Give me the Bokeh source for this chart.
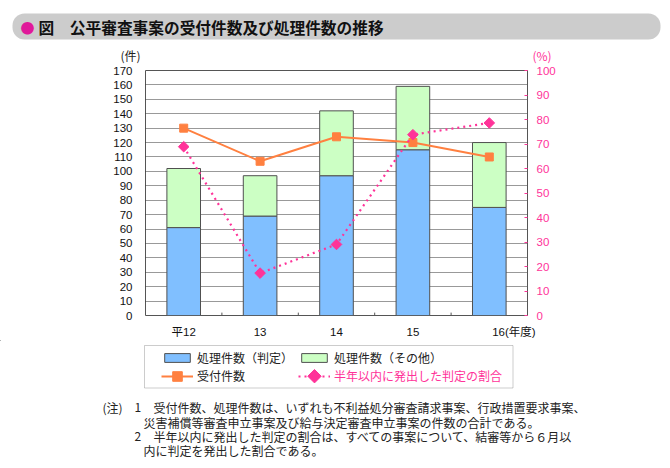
from math import pi
from bokeh.plotting import figure
from bokeh.layouts import column
from bokeh.models import (ColumnDataSource, Range1d, LinearAxis, FactorRange, CustomJSTickFormatter,
                          SingleIntervalTicker, Label, BoxAnnotation, Legend, LegendItem)
from bokeh.embed import file_html
from bokeh.resources import INLINE

# ---------------- data ----------------
years = ["平12", "13", "14", "15", "16"]
year_unit = "(年度)"
hantei = [61, 69, 97, 115, 75]          # 処理件数（判定）
sonota = [41, 28, 45, 44, 45]           # 処理件数（その他）
uketsuke = [130, 107, 124, 120, 110]    # 受付件数
ratio = [68.9, 17.3, 29.0, 73.8, 78.6]  # 半年以内に発出した判定の割合 (%)

title_text = "図　公平審査事案の受付件数及び処理件数の推移"
legend_labels = ["処理件数（判定）", "処理件数（その他）", "受付件数", "半年以内に発出した判定の割合"]
notes = [
    ("(注)", "1", "受付件数、処理件数は、いずれも不利益処分審査請求事案、行政措置要求事案、"),
    ("", "", "災害補償等審査申立事案及び給与決定審査申立事案の件数の合計である。"),
    ("", "2", "半年以内に発出した判定の割合は、すべての事案について、結審等から６月以"),
    ("", "", "内に判定を発出した割合である。"),
]

BLUE = "#80bfff"
GREEN = "#ccffc4"
ORANGE = "#ff8040"
PINK = "#ff3399"
JP = "Noto Sans CJK JP"
NUMF = "Liberation Sans, Noto Sans CJK JP"

W = 664
TOP_H = 64                   # header strip: page y 0..64
FL, FR, FT, FB = 145, 527, 70, 317   # chart frame edges in page pixels
CB = 340                     # chart figure bottom (page y)
BOT = 460                    # bottom strip end (page y)


def blank(h, y0):
    f = figure(width=W, height=h, x_range=Range1d(0, W), y_range=Range1d(y0 + h, y0),
               x_axis_type=None, y_axis_type=None, output_backend="svg",
               toolbar_location=None, min_border=0, frame_align=False)
    f.title.text = ""
    f.outline_line_color = None
    f.background_fill_color = "white"
    f.border_fill_color = "white"
    return f


def lab(f, x, y, text, size="12px", color="#222222", font=JP, align="left",
        style="normal", baseline="middle"):
    f.add_layout(Label(x=x, y=y, text=text, text_font=font, text_font_size=size,
                       text_color=color, text_align=align, text_baseline=baseline,
                       text_font_style=style))


# ---------------- header ----------------
top = blank(TOP_H, 0)
top.add_layout(BoxAnnotation(left=12, right=660, top=13, bottom=39, fill_color="#cccccc",
                             fill_alpha=1, line_color=None, border_radius=12))
lab(top, 27, 26.5, "●", size="14px", color="#e0199a", align="center")
lab(top, 38, 26.5, title_text, size="15.7px", color="#111111", style="bold")
lab(top, 140, 63.5, "(件)", size="12px", align="right", baseline="bottom")
lab(top, 532, 63.5, "(%)", size="12px", color=PINK, baseline="bottom")

# ---------------- chart ----------------
p = figure(width=W, height=CB - TOP_H, x_range=FactorRange(*years), y_range=Range1d(0, 170),
           output_backend="svg", toolbar_location=None, frame_align=False,
           min_border_left=FL, min_border_right=W - FR,
           min_border_top=FT - TOP_H, min_border_bottom=CB - FB)
p.title.text = ""
p.extra_y_ranges = {"pct": Range1d(0, 100)}
p.outline_line_color = "#555555"
p.outline_line_width = 1
p.background_fill_color = "white"
p.border_fill_color = "white"

tick10 = SingleIntervalTicker(interval=10)
p.yaxis.ticker = tick10
p.yaxis.major_tick_line_color = None
p.yaxis.minor_tick_line_color = None
p.yaxis.axis_line_color = None
p.yaxis.major_label_standoff = 7
p.yaxis.major_label_text_font = NUMF
p.yaxis.major_label_text_font_size = "11.5px"
p.yaxis.major_label_text_color = "#111111"

p.xaxis.major_tick_line_color = None
p.xaxis.minor_tick_line_color = None
p.xaxis.axis_line_color = None
p.xaxis.major_label_standoff = 4
p.xaxis.major_label_text_font = NUMF
p.xaxis.major_label_text_font_size = "11.5px"
p.xaxis.major_label_text_color = "#111111"
# last category carries the unit; pad on the left so that "16" stays under its bar
padded_last = "\u3000" * 4 + "\u00a0" + years[-1] + year_unit
p.xaxis.formatter = CustomJSTickFormatter(args=dict(last=years[-1], full=padded_last),
                                          code="return tick == last ? full : tick")

ra = LinearAxis(y_range_name="pct", ticker=SingleIntervalTicker(interval=10))
ra.axis_line_color = None
ra.major_tick_in = 3
ra.major_tick_out = 0
ra.major_tick_line_color = PINK
ra.minor_tick_line_color = None
ra.major_label_standoff = 5
ra.major_label_text_font = NUMF
ra.major_label_text_font_size = "11.5px"
ra.major_label_text_color = PINK
p.add_layout(ra, "right")

p.xgrid.grid_line_color = None
p.ygrid.ticker = tick10
p.ygrid.grid_line_color = "#333333"
p.ygrid.grid_line_dash = "1 1"
p.ygrid.grid_line_width = 1

# boundary tick marks on the x axis (between categories)
bounds = list(range(1, len(years)))
p.segment(x0=bounds, y0=[0] * len(bounds), x1=bounds, y1=[2] * len(bounds),
          line_color="#555555", line_width=1)

src = ColumnDataSource(dict(year=years, hantei=hantei, sonota=sonota))
bars = p.vbar_stack(["hantei", "sonota"], x="year", width=0.44, color=[BLUE, GREEN],
                    line_color="#505050", line_width=1, source=src)

p.line(years, uketsuke, line_color=ORANGE, line_width=2)
p.scatter(years, uketsuke, marker="square", size=8, color=ORANGE)

p.line(years, ratio, y_range_name="pct", line_color=PINK, line_width=2.2, line_dash="2 4")
p.scatter(years, ratio, y_range_name="pct", marker="square", angle=pi / 4, size=7.5, color=PINK)

# ---------------- legend + notes ----------------
bot = blank(BOT - CB, CB)
bot.add_layout(BoxAnnotation(left=144, right=512.5, top=345, bottom=387.5,
                             fill_alpha=0, line_color="#555555", line_width=1))

# legend-key renderers, parked far outside the visible strip
OX = [-2000, -1990]
OY = -2000
k_b = bot.vbar(x=OX[:1], top=[OY], bottom=[OY - 1], width=1, color=BLUE, line_color="#505050")
k_g = bot.vbar(x=OX[:1], top=[OY], bottom=[OY - 1], width=1, color=GREEN, line_color="#505050")
k_l1 = bot.line(x=OX, y=[OY, OY], line_color=ORANGE, line_width=2)
k_m1 = bot.scatter(x=OX[:1], y=[OY], marker="square", color=ORANGE)
k_l2 = bot.line(x=OX, y=[OY, OY], line_color=PINK, line_width=2.2, line_dash="2 4")

GW = 32


def mk_legend(label, renderers, x, top_y, gh, color):
    lg = Legend(items=[LegendItem(label=label, renderers=renderers)],
                location=(x, BOT - (top_y + gh)), padding=0, margin=0, spacing=0,
                glyph_width=GW, glyph_height=gh, label_height=gh, label_standoff=4,
                label_text_font=JP, label_text_font_size="12px", label_text_color=color,
                border_line_color=None, background_fill_alpha=0)
    bot.add_layout(lg)


mk_legend(legend_labels[0], [k_b], 161, 355, 11, "#222222")
mk_legend(legend_labels[1], [k_g], 298, 355, 11, "#222222")
mk_legend(legend_labels[2], [k_l1, k_m1], 161, 363.7, 24, "#222222")
mk_legend(legend_labels[3], [k_l2], 298, 363.7, 24, PINK)
# diamond key of the ratio series (legend keys are drawn unrotated, so add it here)
bot.scatter(x=[298 + GW / 2], y=[363.7 + 12], marker="square", angle=pi / 4, size=9.5, color=PINK)

ys = [407, 421.5, 436, 450]
for (a, b, t), y in zip(notes, ys):
    if a:
        lab(bot, 102, y, a)
    if b:
        lab(bot, 134, y, b)
    lab(bot, 153 if b else 143, y, t)

layout = column(top, p, bot, spacing=0)
open("out.html", "w").write(file_html(layout, INLINE))
